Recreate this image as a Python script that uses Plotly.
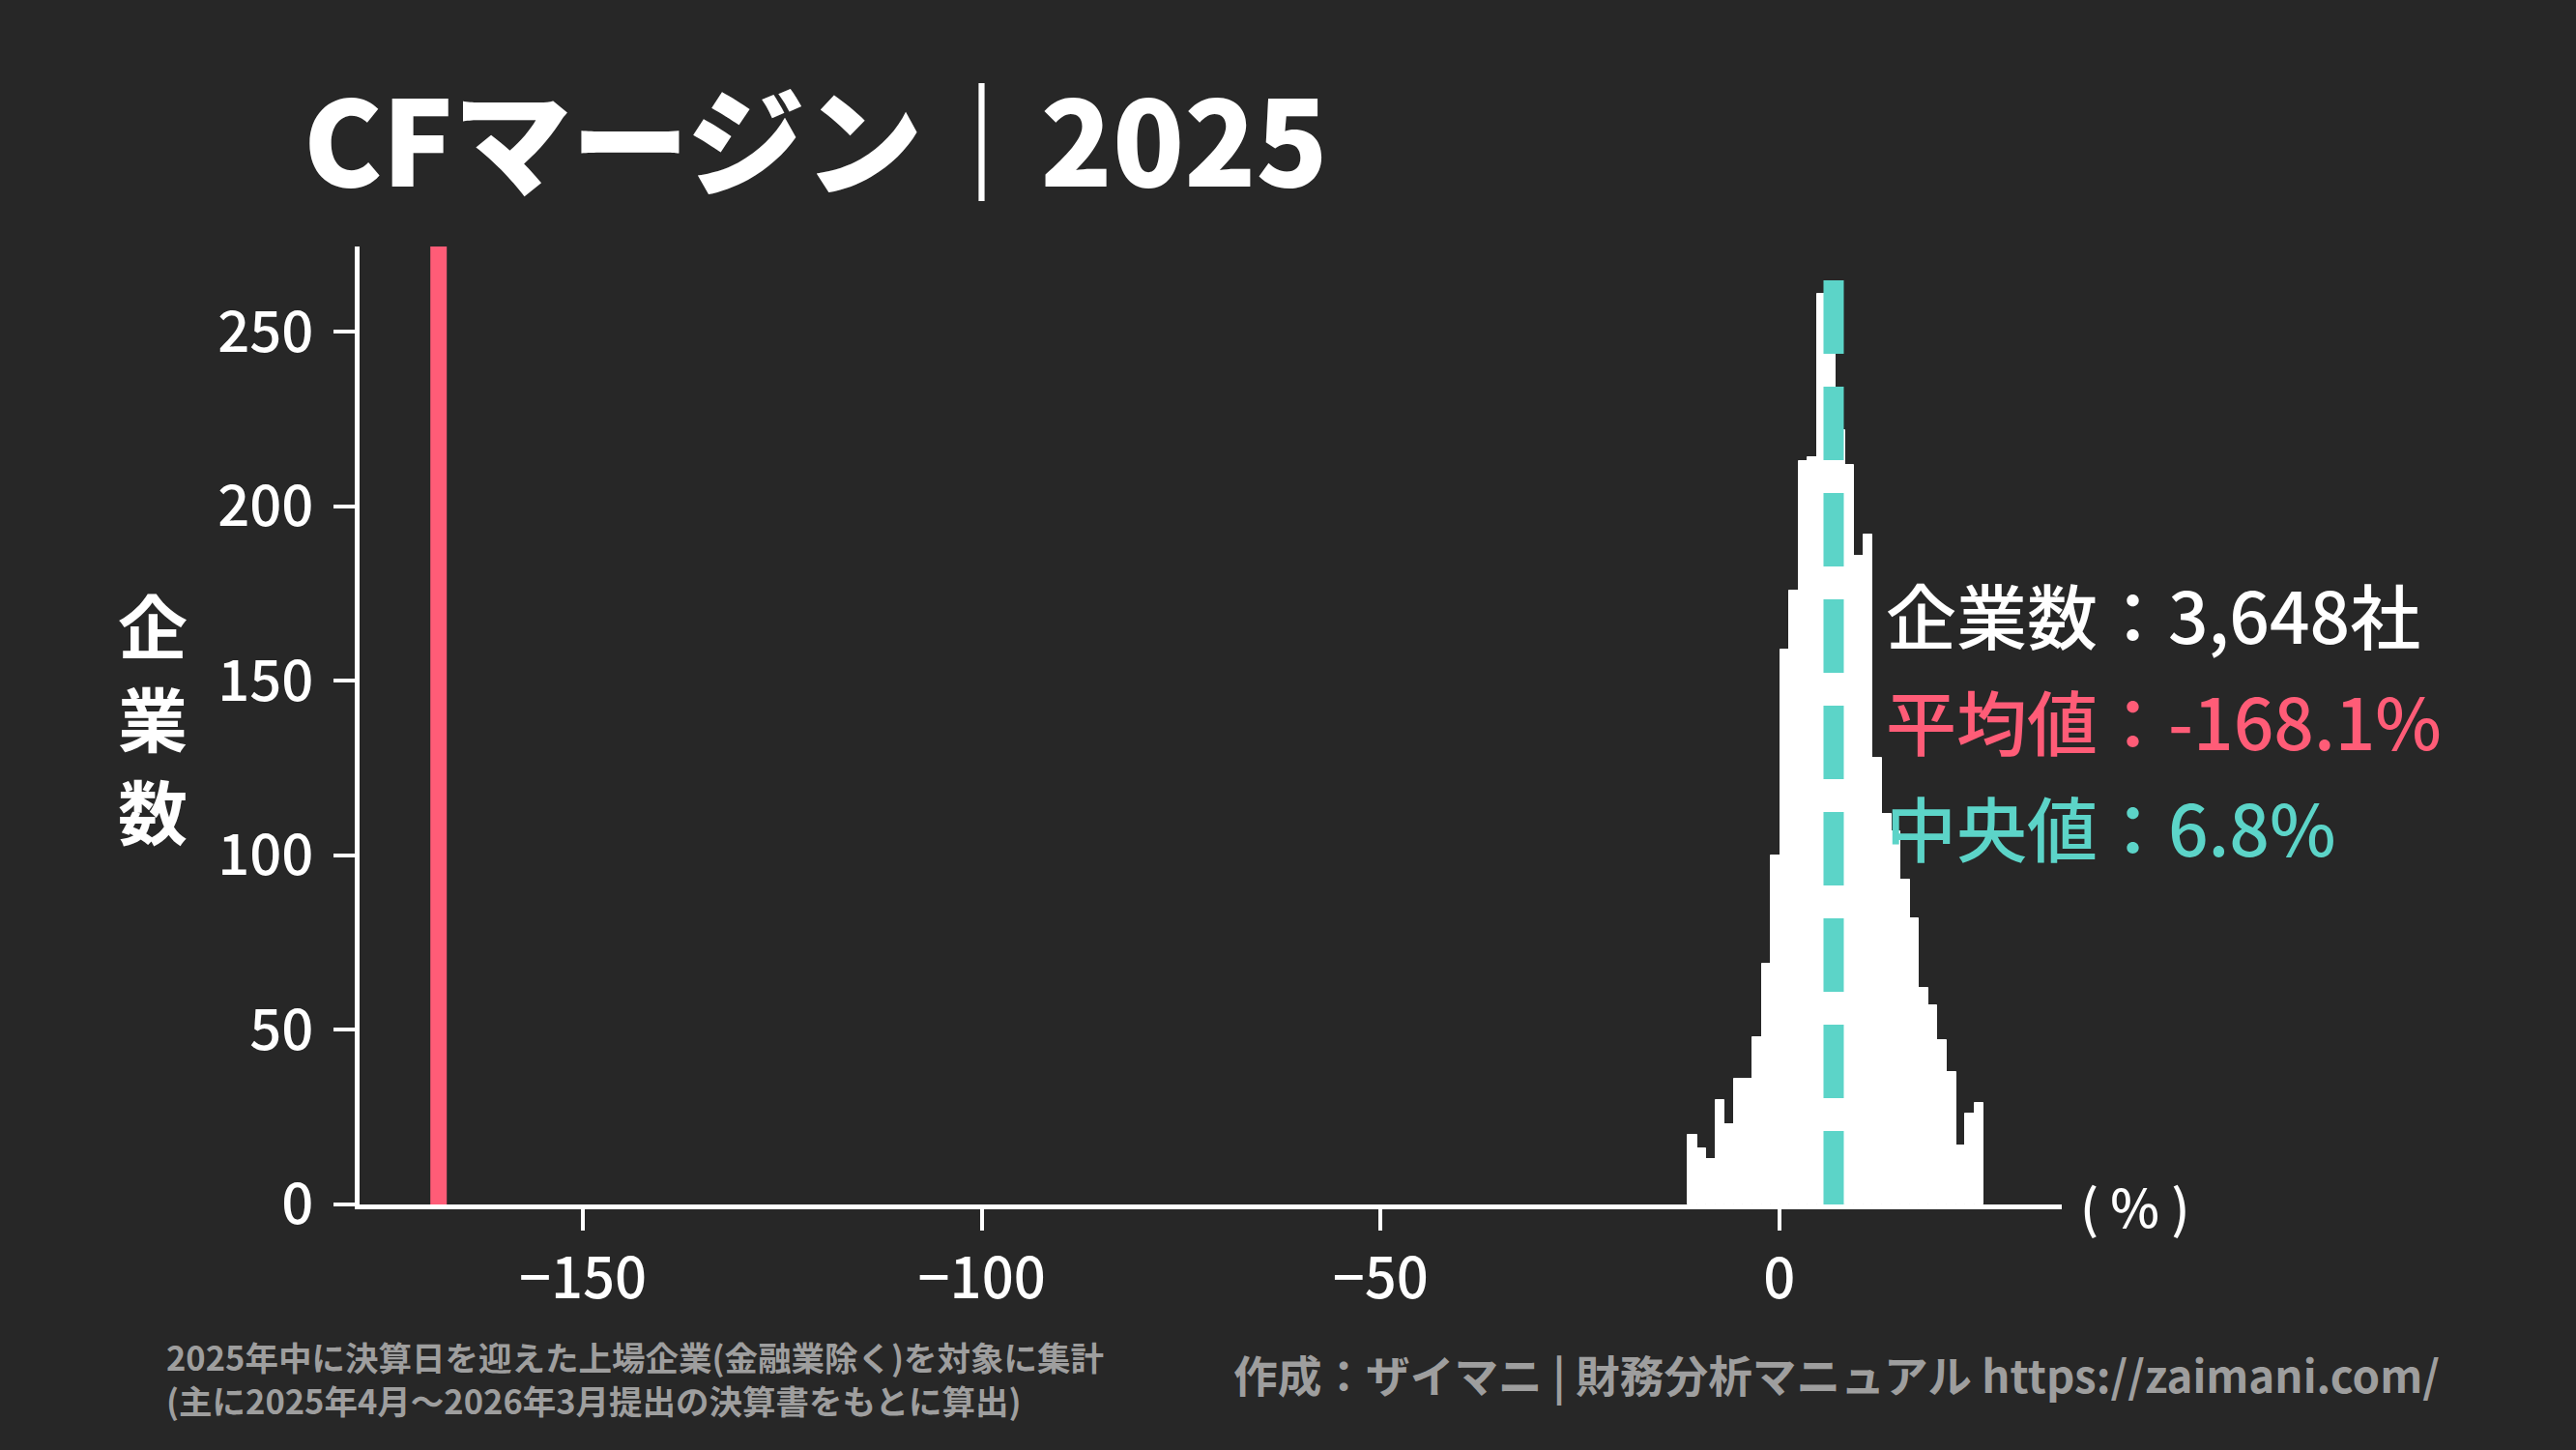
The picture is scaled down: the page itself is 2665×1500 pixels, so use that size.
import plotly.graph_objects as go

# ---- data ----
counts = [20, 16, 13, 30, 23, 36, 36, 48, 69, 100, 159, 176, 213, 214, 261, 250,
          222, 212, 186, 192, 128, 112, 107, 93, 82, 62, 57, 47, 38, 17, 26, 29]
bin_start = -11.5
bin_width = 1.16
mean_val = -168.1
median_val = 6.8
n_companies = 3648
y_ticks = [0, 50, 100, 150, 200, 250]
x_ticks = [-150, -100, -50, 0]

title_text = "CFマージン｜2025"
y_title_chars = ["企", "業", "数"]
foot_left = "2025年中に決算日を迎えた上場企業(金融業除く)を対象に集計<br>(主に2025年4月～2026年3月提出の決算書をもとに算出)"
foot_right = "作成：ザイマニ | 財務分析マニュアル https://zaimani.com/"

# ---- style ----
BG = "#272727"
RED = "#FF5C77"
TEAL = "#5CD4C8"
GRAY = "#9E9E9E"
FONT = "Noto Sans CJK JP"

W, H = 2665, 1500
L, R, T, B = 372, 532, 255, 254
PW, PH = W - L - R, H - T - B


def px_x(px):
    return (px - L) / PW


def px_y(py):
    return (H - B - py) / PH


centers = [bin_start + bin_width * (i + 0.5) for i in range(len(counts))]

fig = go.Figure()
fig.add_trace(go.Bar(
    x=centers, y=counts, width=bin_width,
    marker=dict(color="white", line=dict(color="white", width=1)),
    hoverinfo="skip", showlegend=False,
))

fig.add_shape(type="line", xref="x", yref="paper", x0=mean_val, x1=mean_val,
              y0=0, y1=1, line=dict(color=RED, width=17), layer="above")
fig.add_shape(type="line", xref="x", yref="paper", x0=median_val, x1=median_val,
              y0=0, y1=0.97, line=dict(color=TEAL, width=21, dash="76px,34px"), layer="above")

axis_common = dict(
    showgrid=False, zeroline=False, showline=True, linecolor="white", linewidth=5,
    ticks="outside", ticklen=22, tickwidth=4, tickcolor="white",
    tickfont=dict(family=FONT, size=58, color="white", weight=500),
)

fig.update_layout(
    width=W, height=H,
    paper_bgcolor=BG, plot_bgcolor=BG,
    margin=dict(l=L, r=R, t=T, b=B),
    bargap=0,
    xaxis=dict(range=[-178, 35.4], tickvals=x_ticks, **axis_common),
    yaxis=dict(range=[0, 274.5], tickvals=y_ticks, ticklabelstandoff=9, **axis_common),
)

ann = []
ann.append(dict(text=title_text, x=px_x(312), y=px_y(140), xanchor="left", yanchor="middle",
                font=dict(family=FONT, size=122, color="white", weight=900)))
for ch, yy in zip(y_title_chars, [644, 740, 836]):
    ann.append(dict(text=ch, x=px_x(158), y=px_y(yy), xanchor="center", yanchor="middle",
                    font=dict(family=FONT, size=72, color="white", weight=700)))
ann.append(dict(text="( % )", x=px_x(2150), y=px_y(1246), xanchor="left", yanchor="middle",
                font=dict(family=FONT, size=54, color="white", weight=500)))
stats = [
    (f"企業数：{n_companies:,}社", "white", 634),
    (f"平均値：{mean_val:.1f}%", RED, 744),
    (f"中央値：{median_val:.1f}%", TEAL, 854),
]
for t, c, yy in stats:
    ann.append(dict(text=t, x=px_x(1949), y=px_y(yy), xanchor="left", yanchor="middle",
                    font=dict(family=FONT, size=73, color=c, weight=500)))
ann.append(dict(text=foot_left, x=px_x(170), y=px_y(1425), xanchor="left", yanchor="middle",
                align="left", font=dict(family=FONT, size=34.5, color=GRAY, weight=700)))
ann.append(dict(text=foot_right, x=px_x(2526), y=px_y(1421), xanchor="right", yanchor="middle",
                font=dict(family=FONT, size=45.7, color=GRAY, weight=700)))

for a in ann:
    a.update(xref="paper", yref="paper", showarrow=False)
fig.update_layout(annotations=ann)

fig.write_html(
    "out.html",
    config={"displayModeBar": False},
    post_script="document.body.style.margin='0';document.body.style.overflow='hidden';",
)
